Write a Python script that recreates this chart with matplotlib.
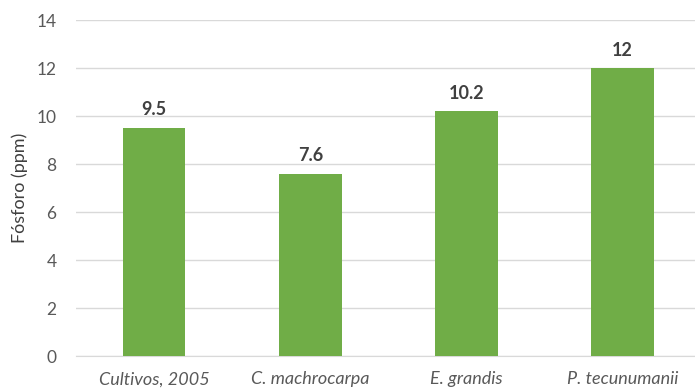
import numpy as np
import matplotlib.pyplot as plt

plt.rcParams['font.family'] = ['Lato', 'DejaVu Sans']

categorias = ['Cultivos, 2005', 'C. machrocarpa', 'E. grandis', 'P. tecunumanii']
fosforo = [9.5, 7.6, 10.2, 12]
etiquetas = ['9.5', '7.6', '10.2', '12']

fig = plt.figure(figsize=(6.95, 3.91), dpi=100)
ax = fig.add_axes([0.1094, 0.0895, 0.899, 0.859])

x = np.arange(len(categorias))
barras = ax.bar(x, fosforo, width=0.40, color='#70AD47', zorder=3)

for xi, v, t in zip(x, fosforo, etiquetas):
    ax.text(xi, v + 0.4, t, ha='center', va='bottom', fontsize=13,
            fontweight='bold', color='#404040')

ax.set_xlim(-0.5, 3.5)
ax.set_ylim(0, 14)
ax.set_yticks(range(0, 15, 2))
ax.set_xticks(x)
ax.set_xticklabels(categorias, fontstyle='italic', fontsize=13, color='#595959')
ax.tick_params(axis='y', labelsize=12.5, labelcolor='#595959', length=0, pad=14)
ax.tick_params(axis='x', length=0, pad=11)
ax.grid(axis='y', color='#D9D9D9', linewidth=1, zorder=0)
for s in ['top', 'right', 'left']:
    ax.spines[s].set_visible(False)
ax.spines['bottom'].set_color('#D9D9D9')
ax.set_ylabel('Fósforo (ppm)', fontsize=13, color='#404040', labelpad=6)

fig.savefig('out.png', dpi=100)
